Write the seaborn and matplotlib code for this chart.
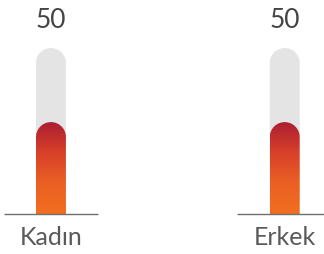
import numpy as np
import pandas as pd
import matplotlib
matplotlib.use("Agg")
import matplotlib.pyplot as plt
import seaborn as sns
from matplotlib.path import Path
from matplotlib.patches import PathPatch
from matplotlib.colors import LinearSegmentedColormap

categories = ["Kadın", "Erkek"]
values = [50, 50]
max_value = 100

df = pd.DataFrame({"cat": categories, "value": values, "track": [max_value] * len(categories)})

sns.set_theme(style="white")
plt.rcParams['font.family'] = ['Lato', 'DejaVu Sans']

fig = plt.figure(figsize=(3.24, 2.55), dpi=100)
ax = fig.add_axes([0, 0, 1, 1])

bar_w = 0.128
sns.barplot(data=df, x="cat", y="track", color="#e4e4e4", width=bar_w, saturation=1, ax=ax)
track_bars = list(ax.patches)
sns.barplot(data=df, x="cat", y="value", color="#d8402a", width=bar_w, saturation=1, ax=ax)
value_bars = list(ax.patches)[len(track_bars):]

xlim = (-0.218, 1.168)
ylim = (-25.8, 139.5)
ax.set_xlim(*xlim)
ax.set_ylim(*ylim)
ax.axis('off')

# pixel scale so caps are true semicircles
p0 = ax.transData.transform((0, 0))
p1 = ax.transData.transform((1, 1))
px_x = p1[0] - p0[0]
px_y = p1[1] - p0[1]


def capped_path(x0, w, h):
    rx = w / 2
    ry = rx * px_x / px_y
    xc = x0 + rx
    t = np.linspace(0, np.pi, 60)
    verts = [(x0, 0), (x0 + w, 0), (x0 + w, h)]
    verts += list(zip(xc + rx * np.cos(t), h + ry * np.sin(t)))
    verts += [(x0, h), (x0, 0)]
    codes = [Path.MOVETO] + [Path.LINETO] * (len(verts) - 2) + [Path.CLOSEPOLY]
    return Path(verts, codes), ry


grad = LinearSegmentedColormap.from_list("fill", ["#f26e20", "#ea6024", "#d8402a", "#aa1d32"])

for bar in track_bars:
    bar.set_visible(False)
    path, _ = capped_path(bar.get_x(), bar.get_width(), bar.get_height() - 2)
    ax.add_patch(PathPatch(path, facecolor="#e4e4e4", edgecolor="none", zorder=1))

for bar in value_bars:
    bar.set_visible(False)
    x0, w, h = bar.get_x(), bar.get_width(), bar.get_height()
    path, ry = capped_path(x0, w, h)
    clip = PathPatch(path, facecolor="none", edgecolor="none", transform=ax.transData)
    ax.add_patch(clip)
    img = ax.imshow(np.linspace(0, 1, 256).reshape(-1, 1), cmap=grad, origin="lower",
                    extent=[x0, x0 + w, 0, h + ry], aspect="auto", zorder=2)
    img.set_clip_path(clip)

for i, (cat, val) in enumerate(zip(categories, values)):
    ax.hlines(0, i - 0.203, i + 0.203, color="#707070", lw=1, zorder=3)
    ax.text(i, 126, str(val), ha="center", va="center", fontsize=19, color="#444444")
    ax.text(i, -14.5, cat, ha="center", va="center", fontsize=18, color="#5a5a5a")

ax.set_xlim(*xlim)
ax.set_ylim(*ylim)

fig.savefig("out.png", dpi=100)
